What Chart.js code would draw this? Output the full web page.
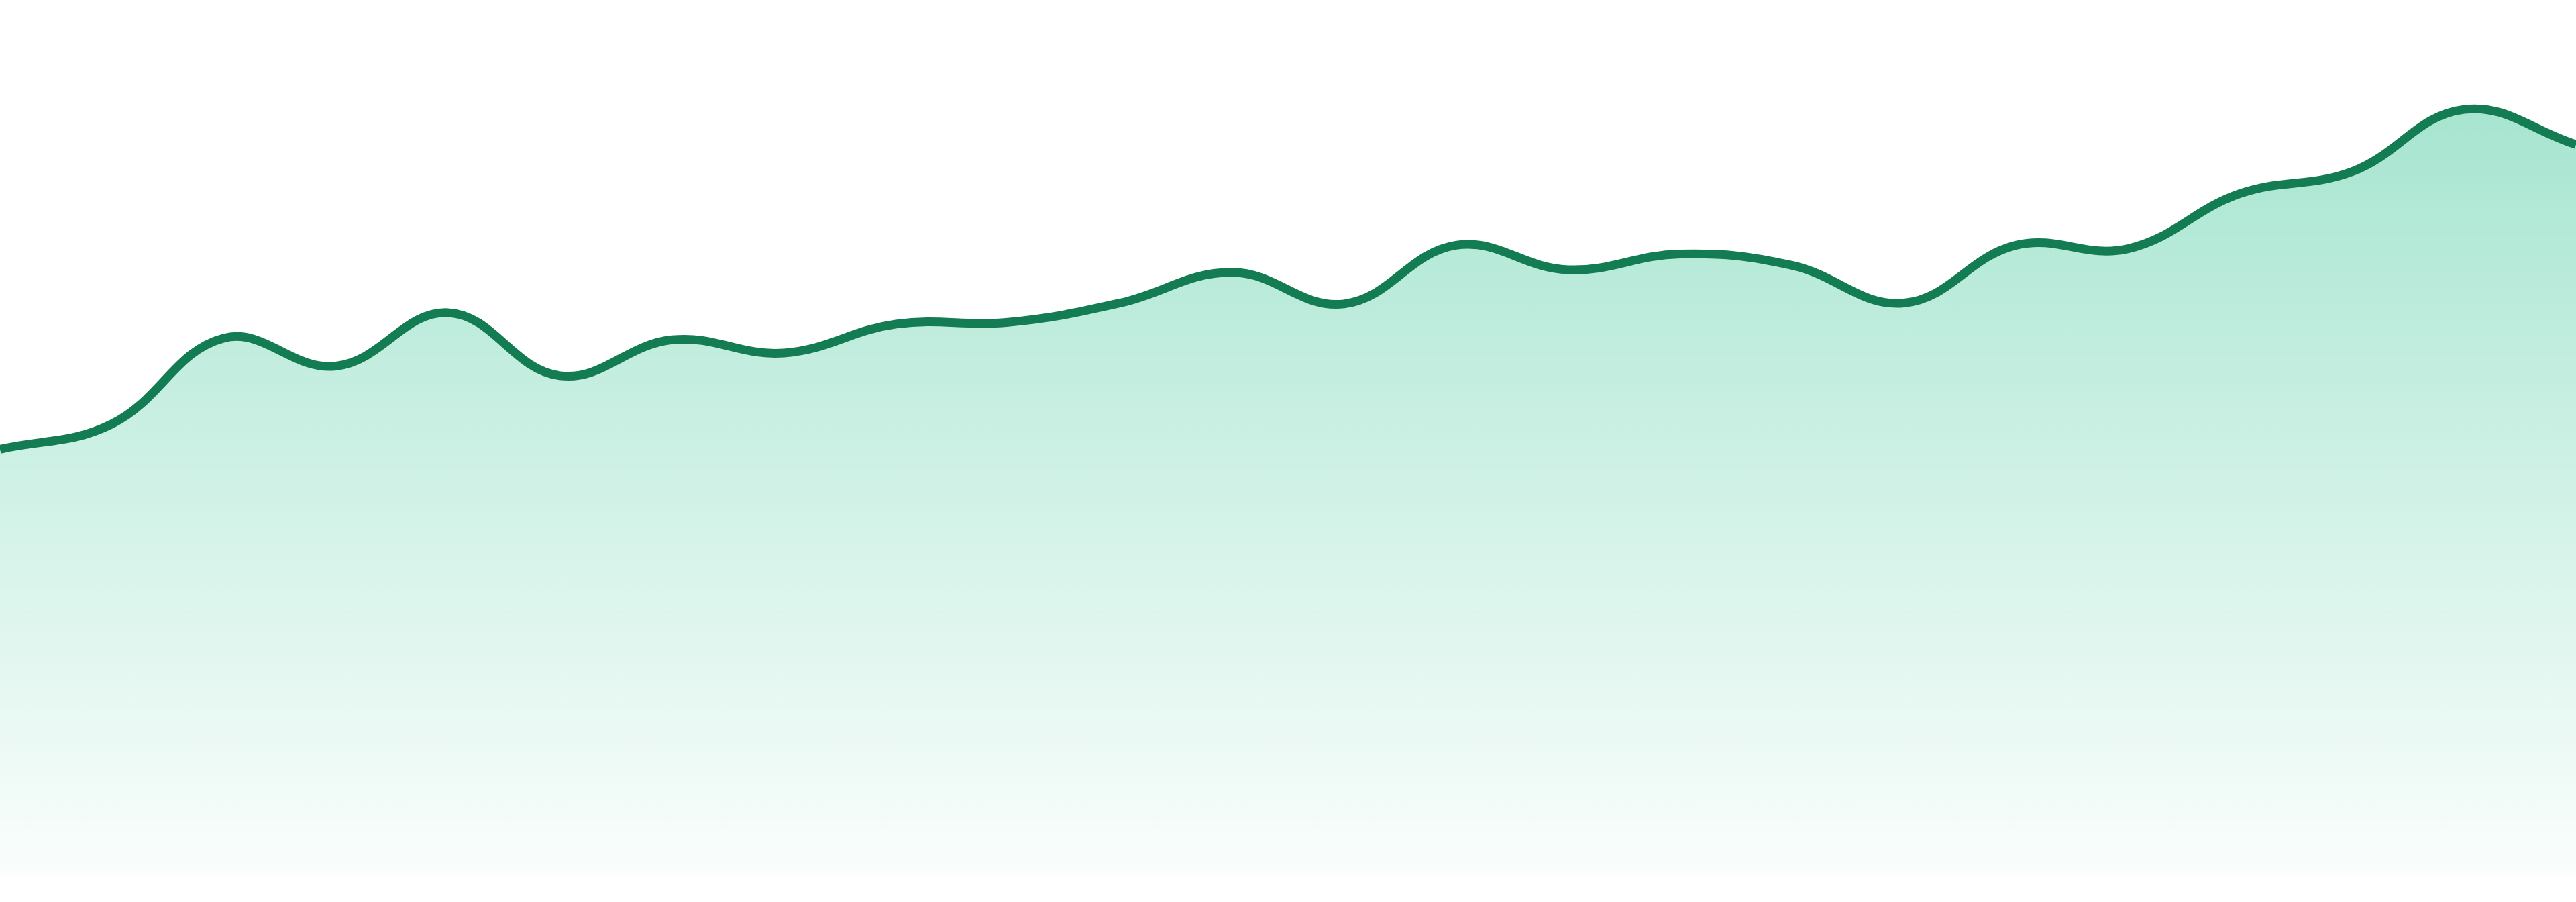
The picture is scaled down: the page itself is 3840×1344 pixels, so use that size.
<!DOCTYPE html>
<html>
<head>
<meta charset="utf-8">
<script src="https://cdn.jsdelivr.net/npm/chart.js@4"></script>
<style>
  html, body { margin: 0; padding: 0; background: #ffffff; }
  #wrap { width: 3840px; height: 1344px; }
</style>
</head>
<body>
<div id="wrap"><canvas id="myChart" width="3840" height="1344"></canvas></div>
<script>
// one value per step
const labels = ['1', '2', '3', '4', '5', '6', '7', '8', '9', '10', '11', '12',
    '13', '14', '15', '16', '17', '18', '19', '20', '21', '22', '23', '24'];
const values = [48.7, 51.6, 61.4, 58.2, 64.3, 57.1, 61.2, 59.7, 63.0, 63.2, 65.4, 68.9,
    65.3, 72.0, 69.2, 71.0, 69.7, 65.4, 72.0, 71.6, 77.9, 80.4, 87.5, 83.5];
const yMin = 0;
const yMax = 100;

function areaFill(context) {
    const area = context.chart.chartArea;
    if (!area) {
        return 'rgba(16, 185, 129, 0.3)';
    }
    const g = context.chart.ctx.createLinearGradient(0, area.top, 0, area.bottom);
    g.addColorStop(0, 'rgba(16, 185, 129, 0.42)');
    g.addColorStop(1, 'rgba(16, 185, 129, 0.02)');
    return g;
}

const ctx = document.getElementById('myChart').getContext('2d');
const myChart = new Chart(ctx, {
    type: 'line',
    data: {
        labels: labels,
        datasets: [{
            data: values,
            borderColor: '#137c52',
            borderWidth: 13,
            backgroundColor: areaFill,
            fill: 'start',
            tension: 0.4,
            pointRadius: 0,
            pointHoverRadius: 0
        }]
    },
    options: {
        responsive: false,
        animation: false,
        devicePixelRatio: 1,
        layout: { padding: { left: 0, right: 0, top: 0, bottom: 39 } },
        plugins: {
            legend: { display: false },
            tooltip: { enabled: false }
        },
        scales: {
            x: { display: false, offset: false },
            y: { display: false, min: yMin, max: yMax }
        }
    }
});
</script>
</body>
</html>
